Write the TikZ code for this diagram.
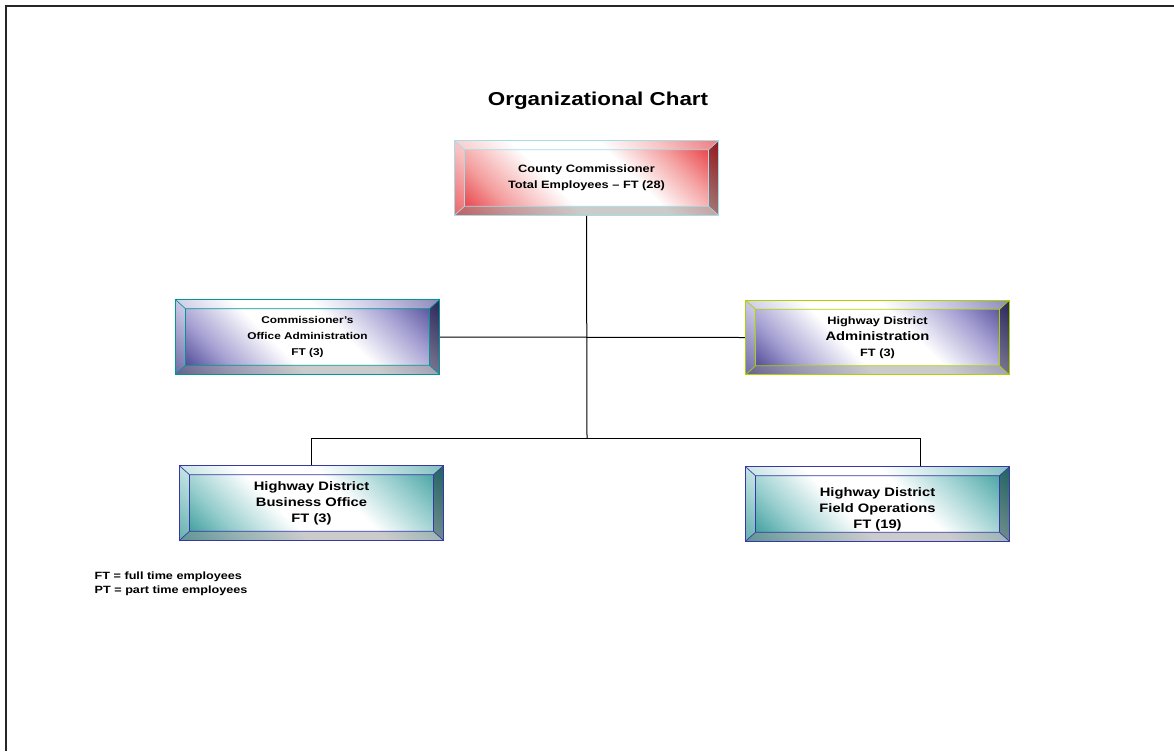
\documentclass[tikz,border=0pt]{standalone}
\usepackage{fontspec}
\setmainfont[FakeStretch=1.2]{Liberation Sans}
\usepackage{xcolor}
\usepackage{tikz}
\usetikzlibrary{positioning, calc}

\definecolor{cRed}{RGB}{228,30,38}
\definecolor{cRedL}{RGB}{244,160,160}
\definecolor{cBlu}{RGB}{45,40,125}
\definecolor{cBluL}{RGB}{165,160,210}
\definecolor{cTea}{RGB}{30,140,140}
\definecolor{cTeaL}{RGB}{150,205,205}
\definecolor{edgeCyan}{RGB}{165,220,230}
\definecolor{edgeTeal}{RGB}{0,150,150}
\definecolor{edgeLime}{RGB}{170,210,0}
\definecolor{edgeNavy}{RGB}{55,55,165}

\pgfdeclarehorizontalshading{redbev}{100bp}{color(0bp)=(cRed); color(14bp)=(cRed); color(28bp)=(cRedL);
  color(42bp)=(white); color(60bp)=(white); color(72bp)=(cRedL); color(86bp)=(cRed); color(100bp)=(cRed)}
\pgfdeclarehorizontalshading{blubev}{100bp}{color(0bp)=(cBlu); color(14bp)=(cBlu); color(28bp)=(cBluL);
  color(42bp)=(white); color(58bp)=(white); color(72bp)=(cBluL); color(88bp)=(cBlu); color(100bp)=(cBlu)}
\pgfdeclarehorizontalshading{teabev}{100bp}{color(0bp)=(cTea); color(14bp)=(cTea); color(28bp)=(cTeaL);
  color(42bp)=(white); color(58bp)=(white); color(72bp)=(cTeaL); color(88bp)=(cTea); color(100bp)=(cTea)}

\begin{document}
\begin{tikzpicture}[
        x=0.75pt, y=-0.75pt,
        bevel/.style = {
            rectangle,
            draw = #1,
            line width = 0.8pt,
            align = center,
            minimum width = 198pt,
            minimum height = 56pt,
            shading angle = 45,
            font = \bfseries,
            path picture = {
                \coordinate (a) at (path picture bounding box.north west);
                \coordinate (b) at (path picture bounding box.north east);
                \coordinate (c) at (path picture bounding box.south east);
                \coordinate (d) at (path picture bounding box.south west);
                \coordinate (ia) at ([shift={(7.5pt,-6.8pt)}]a);
                \coordinate (ib) at ([shift={(-7.5pt,-6.8pt)}]b);
                \coordinate (ic) at ([shift={(-7.5pt,6.8pt)}]c);
                \coordinate (id) at ([shift={(7.5pt,6.8pt)}]d);
                \fill[white, opacity=.4] (a) -- (b) -- (ib) -- (ia) -- cycle;
                \fill[white, opacity=.3] (a) -- (ia) -- (id) -- (d) -- cycle;
                \fill[black, opacity=.35] (b) -- (c) -- (ic) -- (ib) -- cycle;
                \fill[black!40, opacity=.5] (d) -- (id) -- (ic) -- (c) -- cycle;
                \draw[#1, line width=.5pt] (a) -- (ia) -- (ib) -- (b)
                    (ib) -- (ic) -- (c) (ic) -- (id) -- (d) (id) -- (ia);
            }
        },
        link/.style = {draw, line width = 0.75pt}
    ]
    \useasboundingbox (0,0) rectangle (1174,751);
    \draw[line width=1.5pt, black!85] (6,751) -- (6,6) -- (1174,6);

    \node[font=\bfseries\fontsize{14}{16}\selectfont] (title) at (598,101) {Organizational Chart};

    \node[bevel=edgeCyan, shading=redbev] (cc) at (586.5,178)
        {\fontsize{8}{10.1}\selectfont County Commissioner\\
         \fontsize{8}{10.1}\selectfont Total Employees -- FT (28)};

    \node[bevel=edgeTeal, shading=blubev] (coa) at (307.5,337)
        {\fontsize{7.4}{9.4}\selectfont Commissioner's\\
         \fontsize{7.4}{9.4}\selectfont Office Administration\\
         \fontsize{7.4}{9.4}\selectfont FT (3)};

    \node[bevel=edgeLime, shading=blubev] (hda) at (877.5,337.5)
        {\fontsize{8}{10.5}\selectfont Highway District\\
         \fontsize{9.2}{10.5}\selectfont Administration\\
         \fontsize{8}{10.5}\selectfont FT (3)};

    \node[bevel=edgeNavy, shading=teabev] (hbo) at (311.5,503)
        {\fontsize{9.2}{12}\selectfont Highway District\\
         \fontsize{9.2}{12}\selectfont Business Office\\
         \fontsize{9.2}{12}\selectfont FT (3)};

    \node[bevel=edgeNavy, shading=teabev] (hfo) at (877.5,504)
        {\fontsize{9.2}{11}\selectfont\rule{0pt}{14pt}Highway District\\
         \fontsize{9.2}{11}\selectfont Field Operations\\
         \fontsize{9.2}{11}\selectfont FT (19)};

    \coordinate (bus) at (587,438);
    \draw[link] (cc.south) -- (bus);
    \draw[link] (coa.east) -- (hda.west);
    \draw[link] (hbo.north) |- (bus) -| ([xshift=31.9pt]hfo.north);

    \node[anchor=west, align=left, font=\bfseries\fontsize{7.9}{10.2}\selectfont] (key) at (90,584)
        {FT = full time employees\\PT = part time employees};
\end{tikzpicture}
\end{document}
